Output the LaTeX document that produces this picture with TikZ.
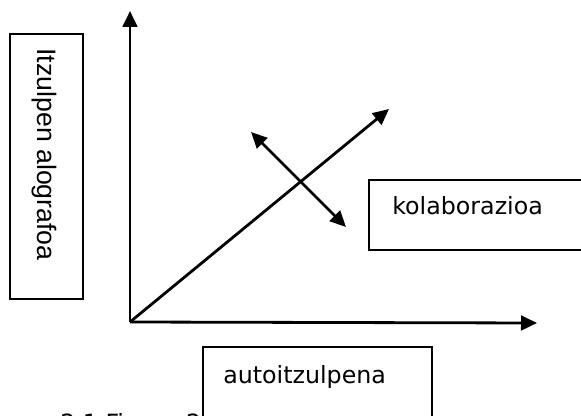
\documentclass[tikz,border=0pt]{standalone}
\usepackage{fontspec}
\setmainfont{DejaVu Sans}
\newfontfamily\arialfont{Liberation Sans}
\usetikzlibrary{arrows.meta}
\begin{document}
\begin{tikzpicture}[x=0.75pt,y=-0.75pt,
  axis/.style={line width=2.1pt,-{Triangle[length=12pt,width=11pt]}},
  dbl/.style={line width=2.1pt,{Triangle[length=12pt,width=11pt]}-{Triangle[length=12pt,width=11pt]}},
  boxnode/.style={draw,line width=1.3pt,fill=white,rectangle,inner sep=0pt},
  lbl/.style={font=\fontsize{17.8pt}{21pt}\selectfont,inner sep=0pt,anchor=base west}]
\useasboundingbox (0,0) rectangle (581,416);
% caption (partly hidden)
\node[lbl,anchor=north west] (cap) at (60,413) {2.1 Figura 2};
% axes
\coordinate (O) at (130,322);
\coordinate (Ytip) at (130,11);
\coordinate (Xtip) at (537,323);
\coordinate (Dtip) at (389,109);
\coordinate (Ca) at (251,132);
\coordinate (Cb) at (346,227);
\draw[axis] (O) -- (Ytip);
\draw[axis] (O) -- (Xtip);
\draw[axis] (O) -- (Dtip);
\draw[dbl] (Ca) -- (Cb);
% left box
\node[boxnode,minimum width=54.75pt,minimum height=198.75pt] (lbox) at (46.5,166.5) {};
\node[font=\arialfont\fontsize{20pt}{24pt}\selectfont,rotate=-90,inner sep=0pt] (ltext) at (44,154.5) {Itzulpen alografoa};
% kolaborazioa box (runs past the right edge)
\node[boxnode,minimum width=173.25pt,minimum height=52.5pt] (kbox) at (484.5,215) {};
\node[lbl] (ktext) at (392,215) {kolaborazioa};
% autoitzulpena box
\node[boxnode,minimum width=171.75pt,minimum height=73.5pt] (abox) at (317.5,396) {};
\node[lbl] (atext) at (223,383) {autoitzulpena};
\end{tikzpicture}
\end{document}
